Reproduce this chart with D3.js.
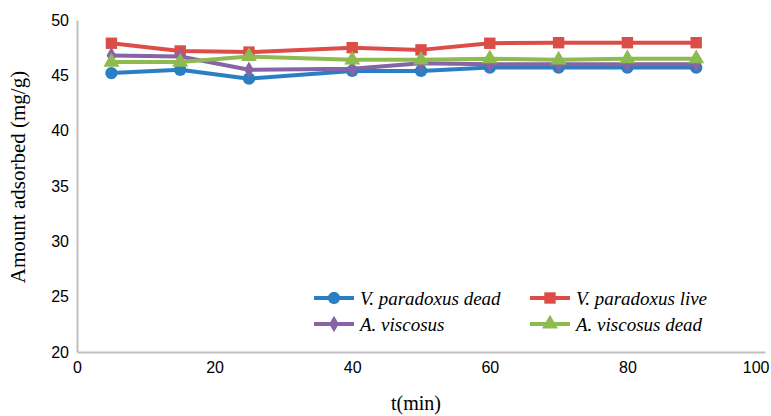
<!doctype html>
<html>
<head>
<meta charset="utf-8">
<script src="https://d3js.org/d3.v7.min.js"></script>
<style>
  body { margin: 0; background: #fff; }
  svg { display: block; }
</style>
</head>
<body>
<svg id="svg" width="771" height="416"></svg>
<script>
// data
const times = [5, 15, 25, 40, 50, 60, 70, 80, 90];
const vpDead = [45.2, 45.5, 44.7, 45.4, 45.4, 45.7, 45.7, 45.7, 45.7];
const vpLive = [47.9, 47.2, 47.1, 47.5, 47.3, 47.9, 47.95, 47.95, 47.95];
const avLive = [46.8, 46.7, 45.5, 45.6, 46.1, 46.0, 46.0, 46.0, 46.0];
const avDead = [46.2, 46.2, 46.7, 46.4, 46.4, 46.5, 46.4, 46.5, 46.5];
const seriesNames = ["V. paradoxus dead", "V. paradoxus live", "A. viscosus", "A. viscosus dead"];
const xTicks = [0, 20, 40, 60, 80, 100];
const yTicks = [20, 25, 30, 35, 40, 45, 50];

const series = [
  { name: seriesNames[0], values: vpDead, color: "#2a7fc2", symbol: d3.symbolCircle, size: 120 },
  { name: seriesNames[1], values: vpLive, color: "#dc4d48", symbol: d3.symbolSquare, size: 130 },
  { name: seriesNames[2], values: avLive, color: "#8764a5", symbol: d3.symbolDiamond, size: 80 },
  { name: seriesNames[3], values: avDead, color: "#8dbb50", symbol: d3.symbolTriangle, size: 110 }
];

const serif = "'Liberation Serif', 'Times New Roman', serif";
const sans = "'Liberation Sans', Arial, sans-serif";

const svg = d3.select("#svg");
const margin = { left: 77, right: 6, top: 20, bottom: 64 };
const width = 771, height = 416;

const x = d3.scaleLinear().domain([0, 100]).range([margin.left, width - margin.right]);
const y = d3.scaleLinear().domain([20, 50]).range([height - margin.bottom, margin.top]);

// axes
const xAxis = svg.append("g")
  .attr("transform", `translate(0, ${y(20)})`)
  .call(d3.axisBottom(x).tickValues(xTicks).tickSize(0).tickPadding(10));
const yAxis = svg.append("g")
  .attr("transform", `translate(${x(0)}, 0)`)
  .call(d3.axisLeft(y).tickValues(yTicks).tickSize(0).tickPadding(8));

[xAxis, yAxis].forEach(a => {
  a.select(".domain").attr("stroke", "#bfbfbf").attr("stroke-width", 2);
  a.selectAll(".tick text")
    .attr("font-family", sans)
    .attr("font-size", 16)
    .attr("fill", "#000");
});
yAxis.selectAll(".tick text").attr("dy", "0.32em");
// keep the last x label inside the picture, as in the reference
xAxis.selectAll(".tick text").filter(d => d === 100)
  .attr("text-anchor", "end").attr("dx", 4);

// axis titles
svg.append("text")
  .attr("x", (x(0) + x(100)) / 2 - 5).attr("y", 410)
  .attr("text-anchor", "middle")
  .attr("font-family", serif)
  .attr("font-size", 20)
  .text("t(min)");
svg.append("text")
  .attr("transform", `translate(25, 177) rotate(-90)`)
  .attr("text-anchor", "middle")
  .attr("font-family", serif)
  .attr("font-size", 21)
  .text("Amount adsorbed (mg/g)");

// lines
const line = d3.line().x((d, i) => x(times[i])).y(d => y(d));
const plot = svg.append("g");
series.forEach(s => {
  const g = plot.append("g");
  g.append("path")
    .datum(s.values)
    .attr("fill", "none")
    .attr("stroke", s.color)
    .attr("stroke-width", 4)
    .attr("stroke-linejoin", "round")
    .attr("d", line);
  g.selectAll("path.m")
    .data(s.values)
    .join("path")
    .attr("class", "m")
    .attr("transform", (d, i) => `translate(${x(times[i])}, ${y(d)})`)
    .attr("fill", s.color)
    .attr("d", d3.symbol().type(s.symbol).size(s.size));
});

// legend
const legend = svg.append("g");
const legPos = [[314, 298], [530, 298], [314, 324], [530, 324]];
series.forEach((s, i) => {
  const [lx, ly] = legPos[i];
  legend.append("line")
    .attr("x1", lx).attr("x2", lx + 40).attr("y1", ly).attr("y2", ly)
    .attr("stroke", s.color).attr("stroke-width", 4);
  legend.append("path")
    .attr("transform", `translate(${lx + 20}, ${ly})`)
    .attr("fill", s.color)
    .attr("d", d3.symbol().type(s.symbol).size(s.size));
  legend.append("text")
    .attr("x", lx + 46).attr("y", ly)
    .attr("dy", "0.35em")
    .attr("font-family", serif)
    .attr("font-style", "italic")
    .attr("font-size", 19)
    .text(s.name);
});
</script>
</body>
</html>
